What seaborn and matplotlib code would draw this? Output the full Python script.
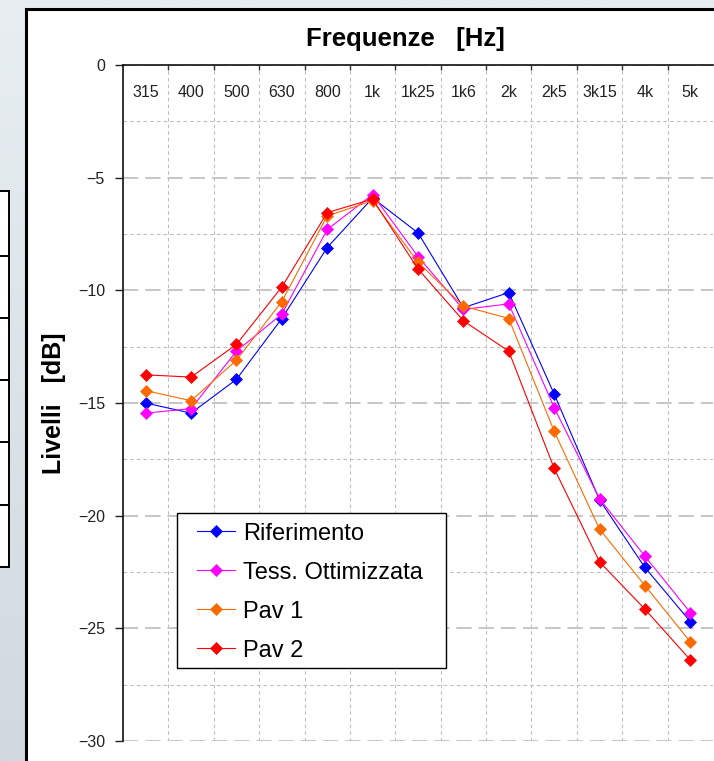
import numpy as np
import pandas as pd
import matplotlib
matplotlib.use("Agg")
import matplotlib.pyplot as plt
from matplotlib.patches import Rectangle
from matplotlib.ticker import FixedLocator
import seaborn as sns

plt.rcParams["font.family"] = ["Liberation Sans", "DejaVu Sans"]
plt.rcParams["lines.scale_dashes"] = False

# Third-octave bands and measured levels (dB)
freq = ["315", "400", "500", "630", "800", "1k", "1k25", "1k6", "2k", "2k5", "3k15", "4k", "5k"]
riferimento = [-15.0, -15.45, -13.95, -11.25, -8.1, -5.9, -7.45, -10.77, -10.1, -14.6, -19.3, -22.3, -24.7]
tess_ottimizzata = [-15.45, -15.25, -12.7, -11.05, -7.3, -5.75, -8.5, -10.85, -10.6, -15.2, -19.25, -21.8, -24.3]
pav1 = [-14.45, -14.9, -13.1, -10.5, -6.7, -6.02, -8.75, -10.7, -11.25, -16.25, -20.6, -23.1, -25.6]
pav2 = [-13.75, -13.85, -12.4, -9.85, -6.55, -5.95, -9.05, -11.35, -12.7, -17.9, -22.05, -24.15, -26.4]

series_names = ["Riferimento", "Tess. Ottimizzata", "Pav 1", "Pav 2"]
series_colors = ["#0000ff", "#ff00ff", "#ff6a00", "#ff0000"]
y_ticks = [0, -5, -10, -15, -20, -25, -30]

df = pd.concat(
    [pd.DataFrame({"Frequenza": freq, "Livello": vals, "Serie": name})
     for name, vals in zip(series_names, [riferimento, tess_ottimizzata, pav1, pav2])],
    ignore_index=True,
)

W, H = 714, 761
fig = plt.figure(figsize=(W / 100, H / 100), dpi=100)

# Window backdrop: gradient frame, white chart panel and the edge of a neighbouring table
bg = fig.add_axes([0, 0, 1, 1], zorder=-10)
bg.set_xlim(0, W)
bg.set_ylim(H, 0)
bg.axis("off")
top_c = np.array([0xe8, 0xee, 0xf2]) / 255
bot_c = np.array([0xd0, 0xd9, 0xde]) / 255
t = np.linspace(0, 1, 256)[:, None, None]
grad = top_c * (1 - t) + bot_c * t
bg.imshow(grad, extent=[0, W, H, 0], aspect="auto", zorder=0)
bg.add_patch(Rectangle((25.5, 8.5), W, H, facecolor="white", edgecolor="black", lw=2.2, zorder=2))
bg.add_patch(Rectangle((-5, 191), 14, 376, facecolor="white", edgecolor="black", lw=1.4, zorder=2))
for yy in [256, 318, 380, 442, 505]:
    bg.plot([-5, 9], [yy, yy], color="black", lw=1.4, zorder=3)

# Plot area
ax = fig.add_axes([123 / W, 20 / H, 590 / W, 676 / H], zorder=1)
ax.set_facecolor("white")

sns.lineplot(
    data=df, x="Frequenza", y="Livello", hue="Serie", hue_order=series_names,
    palette=series_colors, style="Serie", markers=["D"] * 4, dashes=False,
    sort=False, lw=0.8, ax=ax, legend=True,
)
for line in ax.lines:
    line.set_markersize(6.5)
    line.set_markeredgewidth(0.5)
    line.set_markeredgecolor(line.get_color())

ax.set_xlim(-0.5, len(freq) - 0.5)
ax.set_ylim(-30, 0)
ax.set_xlabel("")
ax.set_ylabel("")

# Band labels sit just under the top axis, tick marks on band boundaries
ax.xaxis.set_major_locator(FixedLocator(range(len(freq))))
ax.set_xticklabels(freq)
ax.xaxis.set_minor_locator(FixedLocator(np.arange(0.5, len(freq) - 0.5, 1.0)))
ax.tick_params(axis="x", which="major", top=True, bottom=False, labeltop=True,
               labelbottom=False, length=0, pad=-25, labelsize=11.5, colors="#222222")
ax.tick_params(axis="x", which="minor", top=True, bottom=False, direction="in",
               length=3.6, width=1.0, color="#333333")

ax.yaxis.set_major_locator(FixedLocator(y_ticks))
ax.yaxis.set_minor_locator(FixedLocator(np.arange(-27.5, 0, 5.0)))
ax.tick_params(axis="y", which="major", left=True, direction="out", length=5.5,
               width=1.0, labelsize=11.5, colors="#222222", pad=7.5)
ax.tick_params(axis="y", which="minor", length=0)

ax.grid(which="major", axis="y", color="#c6c6c6", lw=1.4, linestyle=(0, (11, 5)))
ax.grid(which="minor", axis="y", color="#bdbdbd", lw=0.75, linestyle=(0, (2.6, 2.2)))
ax.grid(which="minor", axis="x", color="#bdbdbd", lw=0.75, linestyle=(0, (2.6, 2.2)))
ax.grid(which="major", axis="x", visible=False)
ax.set_axisbelow(True)

for side in ["right", "bottom"]:
    ax.spines[side].set_visible(False)
for side in ["left", "top"]:
    ax.spines[side].set_color("#111111")
    ax.spines[side].set_linewidth(1.2)

# Legend with its own boxed frame
handles, labels = ax.get_legend_handles_labels()
ax.get_legend().remove()
for h in handles:
    h.set_markersize(6.5)
    h.set_markeredgewidth(0.5)
    h.set_markeredgecolor(h.get_color())
    h.set_linewidth(0.8)
ax.add_patch(Rectangle((0.0915, 0.108), 0.456, 0.2293, transform=ax.transAxes,
                       facecolor="white", edgecolor="black", lw=1.0, zorder=4))
leg = ax.legend(handles, labels, loc="upper left", bbox_to_anchor=(0.1254, 0.323),
                frameon=False, fontsize=17, handlelength=1.6, handletextpad=0.35,
                labelspacing=0.72, borderpad=0, borderaxespad=0)
leg.set_zorder(5)

fig.text(405 / W, 1 - 39 / H, "Frequenze   [Hz]", ha="center", va="center",
         fontsize=18.5, fontweight="bold")
fig.text(54 / W, 1 - 403 / H, "Livelli   [dB]", ha="center", va="center",
         rotation=90, fontsize=18, fontweight="bold")

fig.savefig("out.png", dpi=100)
